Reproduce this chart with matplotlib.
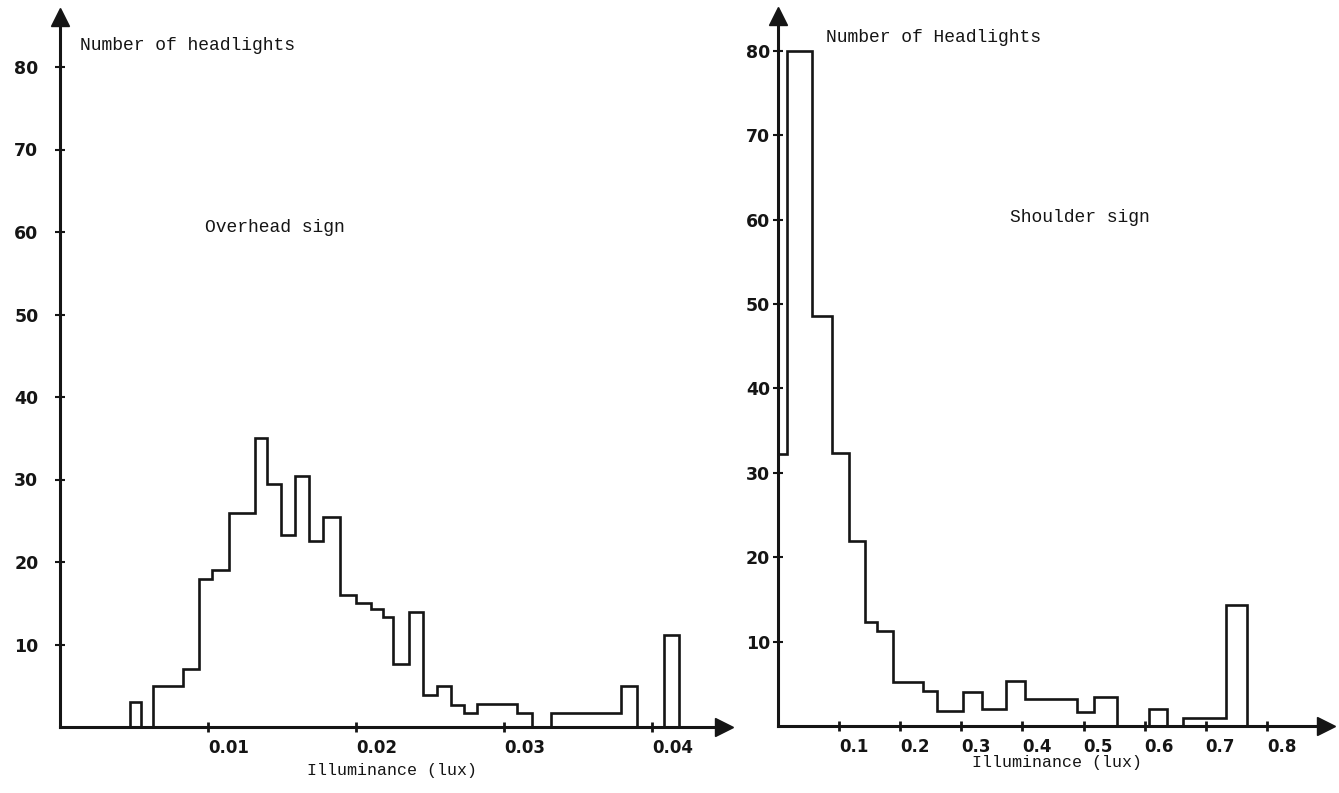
import matplotlib.pyplot as plt

plt.rcParams['font.family'] = ['DejaVu Sans']

# overhead sign: bin edges (lux) and number of headlights per bin
overhead_edges = [0.0047, 0.0055, 0.0063, 0.0083, 0.0094, 0.0103, 0.0114, 0.0132, 0.0140, 0.0149,
                  0.0159, 0.0168, 0.0178, 0.0189, 0.0200, 0.0210, 0.0218, 0.0225, 0.0236, 0.0245,
                  0.0255, 0.0264, 0.0273, 0.0282, 0.0309, 0.0319, 0.0332, 0.0379, 0.0390, 0.0408,
                  0.0418]
overhead_counts = [3, 0, 5, 7, 18, 19, 26, 35, 29.5, 23.3,
                   30.4, 22.6, 25.5, 16, 15, 14.3, 13.3, 7.6, 14, 3.9,
                   5, 2.7, 1.7, 2.8, 1.7, 0, 1.7, 5, 0, 11.2]

# shoulder sign: bin edges (lux) and number of headlights per bin
shoulder_edges = [0, 0.0147, 0.0556, 0.0884, 0.116, 0.142, 0.162, 0.188, 0.237, 0.260,
                  0.303, 0.334, 0.373, 0.404, 0.489, 0.517, 0.555, 0.607, 0.637, 0.663,
                  0.695, 0.734, 0.768]
shoulder_counts = [32.2, 80, 48.6, 32.3, 21.9, 12.3, 11.3, 5.2, 4.1, 1.8,
                   4.0, 2.0, 5.3, 3.2, 1.6, 3.4, 0, 2.0, 0, 1.0,
                   1.0, 14.3]

overhead_ticks = [0.01, 0.02, 0.03, 0.04]
overhead_ticklabels = ['0.01', '0.02', '0.03', '0.04']
shoulder_ticks = [0.1, 0.2, 0.3, 0.4, 0.5, 0.6, 0.7, 0.8]
shoulder_ticklabels = ['0.1', '0.2', '0.3', '0.4', '0.5', '0.6', '0.7', '0.8']
count_ticks = [10, 20, 30, 40, 50, 60, 70, 80]

W, H = 1339, 793
fig = plt.figure(figsize=(W / 100, H / 100), dpi=100)

ink = '#151515'
mono = 'Liberation Mono'


def make_axes(rect_px, xlim, ylim, xticks, xlabels, ypad):
    x0, y0, w, h = rect_px
    ax = fig.add_axes([x0 / W, y0 / H, w / W, h / H])
    ax.set_xlim(*xlim)
    ax.set_ylim(*ylim)
    for side in ['top', 'right']:
        ax.spines[side].set_visible(False)
    for side in ['left', 'bottom']:
        ax.spines[side].set_linewidth(2.2)
        ax.spines[side].set_color(ink)
    ax.plot(1, 0, '>', color=ink, ms=13, transform=ax.get_yaxis_transform(), clip_on=False)
    ax.plot(0, 1, '^', color=ink, ms=13, transform=ax.get_xaxis_transform(), clip_on=False)
    ax.set_xticks(xticks)
    ax.set_xticklabels(xlabels, fontweight='bold', fontsize=12, color=ink)
    for lab in ax.get_xticklabels():
        lab.set_ha('left')
    ax.set_yticks(count_ticks)
    ax.set_yticklabels([str(v) for v in count_ticks], fontweight='bold', fontsize=12.5, color=ink)
    ax.tick_params(axis='x', direction='inout', length=7, width=2, color=ink, pad=5)
    ax.tick_params(axis='y', direction='inout', length=7, width=1.5, color=ink, pad=ypad)
    ax.patch.set_alpha(0)
    return ax


# left panel: x=0 at pixel 60, 148 px per 0.01 lux; 8.25 px per headlight
ax1 = make_axes((60, 66, 664, 710), (0, 664 / 14800), (0, 710 / 8.25),
                overhead_ticks, overhead_ticklabels, 12)
ax1.stairs(overhead_counts, overhead_edges, color=ink, lw=1.9, baseline=0)

# right panel: x=0 at pixel 778, 611 px per lux; 8.44 px per headlight
ax2 = make_axes((778, 67, 548, 710), (0, 548 / 611), (0, 710 / 8.44),
                shoulder_ticks, shoulder_ticklabels, 2)
ax2.stairs(shoulder_counts, shoulder_edges, color=ink, lw=1.9, baseline=0)


def ftext(x, y, s, size=13):
    fig.text(x / W, 1 - y / H, s, family=mono, fontsize=size, color=ink, ha='left', va='center')


ftext(80, 45, 'Number of headlights')
ftext(205, 228, 'Overhead sign')
ftext(307, 771, 'Illuminance (lux)', 12)
ftext(826, 38, 'Number of Headlights')
ftext(1010, 218, 'Shoulder sign')
ftext(972, 763, 'Illuminance (lux)', 12)

fig.savefig('out.png', dpi=100)
